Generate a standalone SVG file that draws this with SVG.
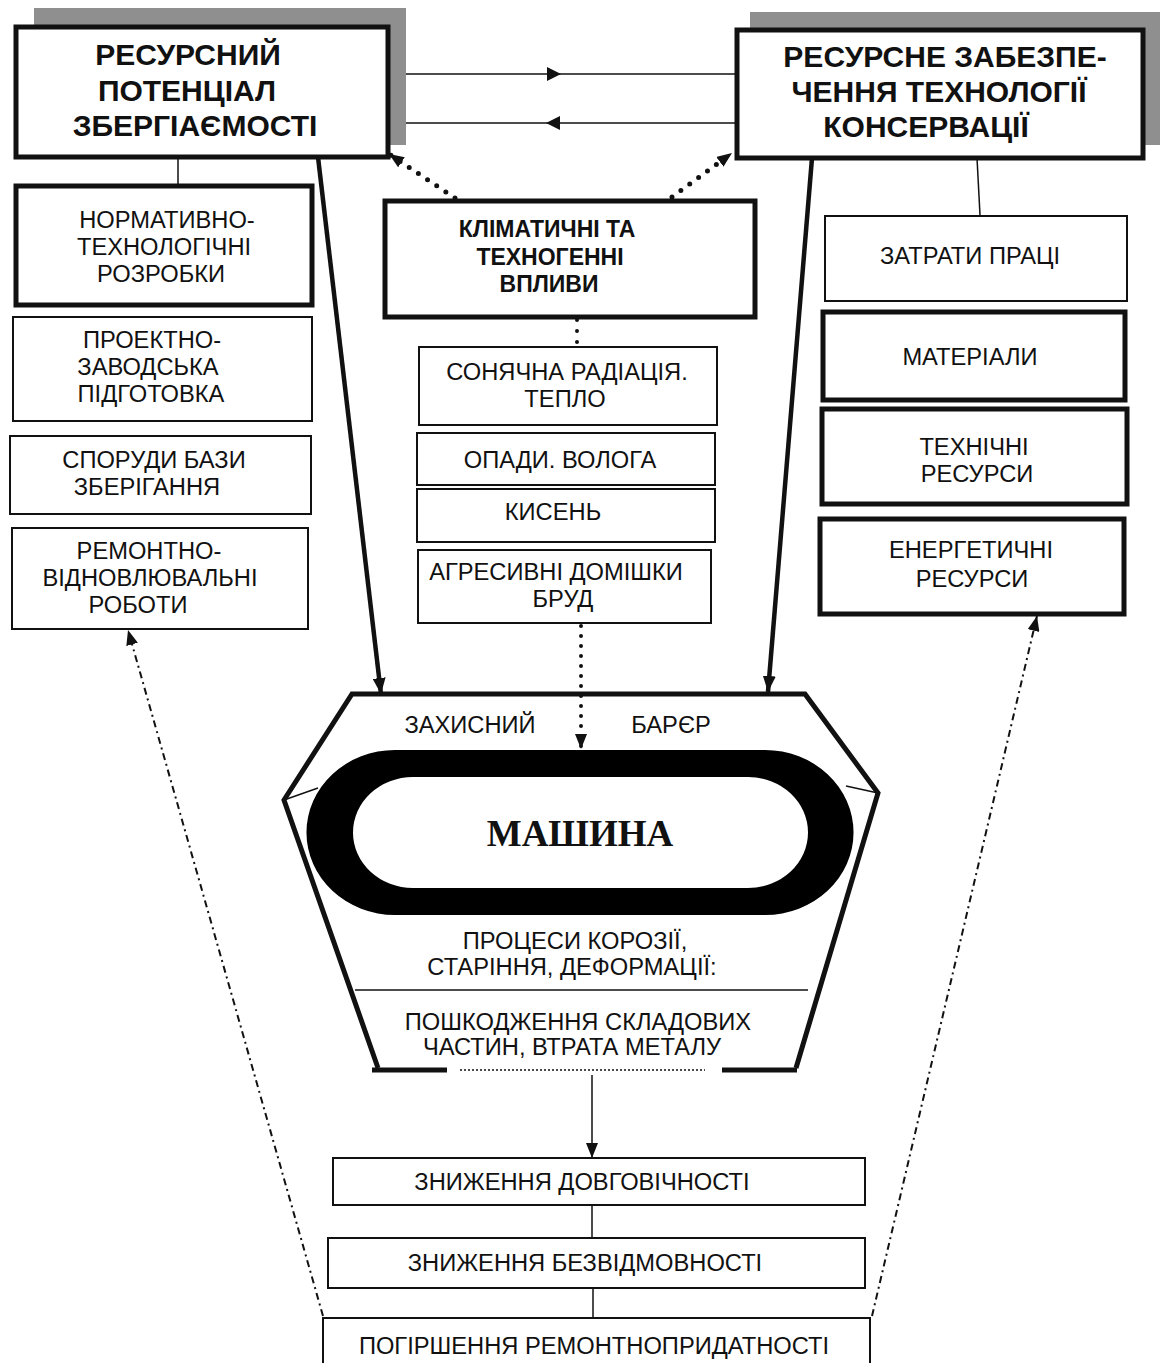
<svg xmlns="http://www.w3.org/2000/svg" width="1160" height="1363" viewBox="0 0 1160 1363">
<style>
.t{font-family:"Liberation Sans",Arial,sans-serif;font-size:23.7px;fill:#111;text-anchor:middle}
.tb{font-family:"Liberation Sans",Arial,sans-serif;font-weight:bold;fill:#111;text-anchor:middle}
.box{fill:#fff;stroke:#111;stroke-width:2}
.boxk{fill:#fff;stroke:#111;stroke-width:5}
.thin{fill:none;stroke:#111;stroke-width:1.5}
.thick{fill:none;stroke:#111;stroke-width:4.5}
.dots{fill:none;stroke:#111;stroke-width:5;stroke-linecap:round;stroke-dasharray:0 11}
.dashdot{fill:none;stroke:#111;stroke-width:2;stroke-dasharray:7 4 2 4}
.shadow{fill:#8f8f8f}
</style>
<defs>
<marker id="ah" viewBox="0 0 10 10" refX="10" refY="5" markerUnits="userSpaceOnUse" markerWidth="16" markerHeight="13" orient="auto" preserveAspectRatio="none">
<path d="M0,0 L10,5 L0,10 z" fill="#111"/>
</marker>
<marker id="ahs" viewBox="0 0 10 10" refX="10" refY="5" markerUnits="userSpaceOnUse" markerWidth="15" markerHeight="12" orient="auto" preserveAspectRatio="none">
<path d="M0,0 L10,5 L0,10 z" fill="#111"/>
</marker>
</defs>

<!-- shadows -->
<rect class="shadow" x="34" y="8" width="372" height="137"/>
<rect class="shadow" x="750" y="12" width="410" height="133"/>

<g id="connectors">
<line class="thin" x1="406" y1="74" x2="737" y2="74"/>
<polygon points="547,67 561,74 547,81" fill="#111"/>
<line class="thin" x1="406" y1="123" x2="737" y2="123"/>
<polygon points="560,116 546,123 560,130" fill="#111"/>
<line class="thin" x1="178" y1="157" x2="178" y2="185"/>
<line class="thin" x1="977" y1="158" x2="980" y2="215"/>
<line class="thick" x1="318" y1="157" x2="381" y2="694" marker-end="url(#ah)"/>
<line class="thick" x1="812" y1="158" x2="768" y2="692" marker-end="url(#ah)"/>
<line class="dots" x1="455" y1="198" x2="389" y2="154" marker-end="url(#ahs)"/>
<line class="dots" x1="672" y1="197" x2="732" y2="153" marker-end="url(#ahs)"/>
<line class="dots" x1="577" y1="320" x2="577" y2="345" style="stroke-width:4;stroke-dasharray:0 11"/>
<line class="dots" x1="581" y1="626" x2="581" y2="749" style="stroke-width:4;stroke-dasharray:0 10" marker-end="url(#ahs)"/>
<line class="thin" x1="592" y1="1075" x2="592" y2="1158" marker-end="url(#ahs)"/>
<line class="thin" x1="592" y1="1205" x2="592" y2="1238"/>
<line class="thin" x1="593" y1="1288" x2="593" y2="1318"/>
<line class="dashdot" x1="323" y1="1316" x2="128" y2="630" marker-end="url(#ahs)"/>
<line class="dashdot" x1="872" y1="1316" x2="1037" y2="616" marker-end="url(#ahs)"/>
</g>

<g id="resource-potential">
<rect class="boxk" x="16" y="27" width="372" height="130"/>
<text class="tb" font-size="30" x="188" y="65">РЕСУРСНИЙ</text>
<text class="tb" font-size="30" x="187" y="101">ПОТЕНЦІАЛ</text>
<text class="tb" font-size="30" x="195" y="136">ЗБЕРГІАЄМОСТІ</text>
</g>

<g id="resource-supply">
<rect class="boxk" x="737" y="30" width="406" height="128"/>
<text class="tb" font-size="30" x="945" y="67">РЕСУРСНЕ ЗАБЕЗПЕ-</text>
<text class="tb" font-size="30" x="939" y="102">ЧЕННЯ ТЕХНОЛОГІЇ</text>
<text class="tb" font-size="30" x="926" y="137">КОНСЕРВАЦІЇ</text>
</g>

<g id="normative">
<rect class="boxk" x="16" y="186" width="296" height="119"/>
<text class="t" x="167" y="228">НОРМАТИВНО-</text>
<text class="t" x="164" y="255">ТЕХНОЛОГІЧНІ</text>
<text class="t" x="161" y="282">РОЗРОБКИ</text>
</g>
<g id="project">
<rect class="box" x="13" y="317" width="299" height="104"/>
<text class="t" x="152" y="348">ПРОЕКТНО-</text>
<text class="t" x="148" y="375">ЗАВОДСЬКА</text>
<text class="t" x="151" y="402">ПІДГОТОВКА</text>
</g>
<g id="storage">
<rect class="box" x="10" y="436" width="301" height="78"/>
<text class="t" x="154" y="468">СПОРУДИ БАЗИ</text>
<text class="t" x="147" y="495">ЗБЕРІГАННЯ</text>
</g>
<g id="repair">
<rect class="box" x="12" y="528" width="296" height="101"/>
<text class="t" x="149" y="559">РЕМОНТНО-</text>
<text class="t" x="150" y="586">ВІДНОВЛЮВАЛЬНІ</text>
<text class="t" x="138" y="613">РОБОТИ</text>
</g>

<g id="climate">
<rect class="boxk" x="385" y="201" width="370" height="116"/>
<text class="tb" font-size="23" x="547" y="237">КЛІМАТИЧНІ ТА</text>
<text class="tb" font-size="23" x="550" y="265">ТЕХНОГЕННІ</text>
<text class="tb" font-size="23" x="549" y="292">ВПЛИВИ</text>
</g>
<g id="solar">
<rect class="box" x="419" y="347" width="298" height="78"/>
<text class="t" x="567" y="380">СОНЯЧНА РАДІАЦІЯ.</text>
<text class="t" x="565" y="407">ТЕПЛО</text>
</g>
<g id="precip">
<rect class="box" x="417" y="433" width="298" height="52"/>
<text class="t" x="560" y="468">ОПАДИ. ВОЛОГА</text>
</g>
<g id="oxygen">
<rect class="box" x="417" y="489" width="298" height="53"/>
<text class="t" x="553" y="520">КИСЕНЬ</text>
</g>
<g id="aggressive">
<rect class="box" x="418" y="550" width="293" height="73"/>
<text class="t" x="556" y="580">АГРЕСИВНІ ДОМІШКИ</text>
<text class="t" x="563" y="607">БРУД</text>
</g>

<g id="labour">
<rect class="box" x="825" y="216" width="302" height="85"/>
<text class="t" x="970" y="264">ЗАТРАТИ ПРАЦІ</text>
</g>
<g id="materials">
<rect class="boxk" x="823" y="312" width="302" height="88"/>
<text class="t" x="970" y="365">МАТЕРІАЛИ</text>
</g>
<g id="technical">
<rect class="boxk" x="822" y="409" width="305" height="95"/>
<text class="t" x="974" y="455">ТЕХНІЧНІ</text>
<text class="t" x="977" y="482">РЕСУРСИ</text>
</g>
<g id="energy">
<rect class="boxk" x="820" y="519" width="304" height="95"/>
<text class="t" x="971" y="558">ЕНЕРГЕТИЧНІ</text>
<text class="t" x="972" y="587">РЕСУРСИ</text>
</g>

<g id="barrier">
<path d="M378,1068 L284,800 L352,694 L805,694 L878,793 L796,1068" fill="none" stroke="#111" stroke-width="5" stroke-linejoin="miter"/>
<path d="M372,1070 H447 M722,1070 H797" fill="none" stroke="#111" stroke-width="5"/>
<path d="M460,1070 H705" fill="none" stroke="#111" stroke-width="1.5" stroke-dasharray="2 2"/>
<line class="thin" x1="284" y1="800" x2="318" y2="788"/>
<line class="thin" x1="878" y1="793" x2="846" y2="786"/>
<text class="t" x="470" y="733">ЗАХИСНИЙ</text>
<text class="t" x="671" y="733">БАРЄР</text>
<path fill="#000" fill-rule="evenodd" d="M395,750 H765 A88,82 0 0 1 765,915 H395 A88,82 0 0 1 395,750 Z M413,777 H748 A60,55.5 0 0 1 748,888 H413 A60,55.5 0 0 1 413,777 Z"/>
<line class="thin" x1="355" y1="990" x2="808" y2="990"/>
<text class="t" x="575" y="949">ПРОЦЕСИ КОРОЗІЇ,</text>
<text class="t" x="572" y="975">СТАРІННЯ, ДЕФОРМАЦІЇ:</text>
<text class="t" x="578" y="1030">ПОШКОДЖЕННЯ СКЛАДОВИХ</text>
<text class="t" x="572" y="1055">ЧАСТИН, ВТРАТА МЕТАЛУ</text>
</g>
<g id="machine">
<text x="580" y="846" font-family="'Liberation Serif','Times New Roman',serif" font-weight="bold" font-size="37" text-anchor="middle" fill="#111">МАШИНА</text>
</g>

<g id="durability">
<rect class="box" x="333" y="1158" width="532" height="47"/>
<text class="t" x="582" y="1190">ЗНИЖЕННЯ ДОВГОВІЧНОСТІ</text>
</g>
<g id="reliability">
<rect class="box" x="328" y="1238" width="537" height="50"/>
<text class="t" x="585" y="1271">ЗНИЖЕННЯ БЕЗВІДМОВНОСТІ</text>
</g>
<g id="maintainability">
<rect class="box" x="323" y="1318" width="547" height="60"/>
<text class="t" x="594" y="1354">ПОГІРШЕННЯ РЕМОНТНОПРИДАТНОСТІ</text>
</g>
</svg>
